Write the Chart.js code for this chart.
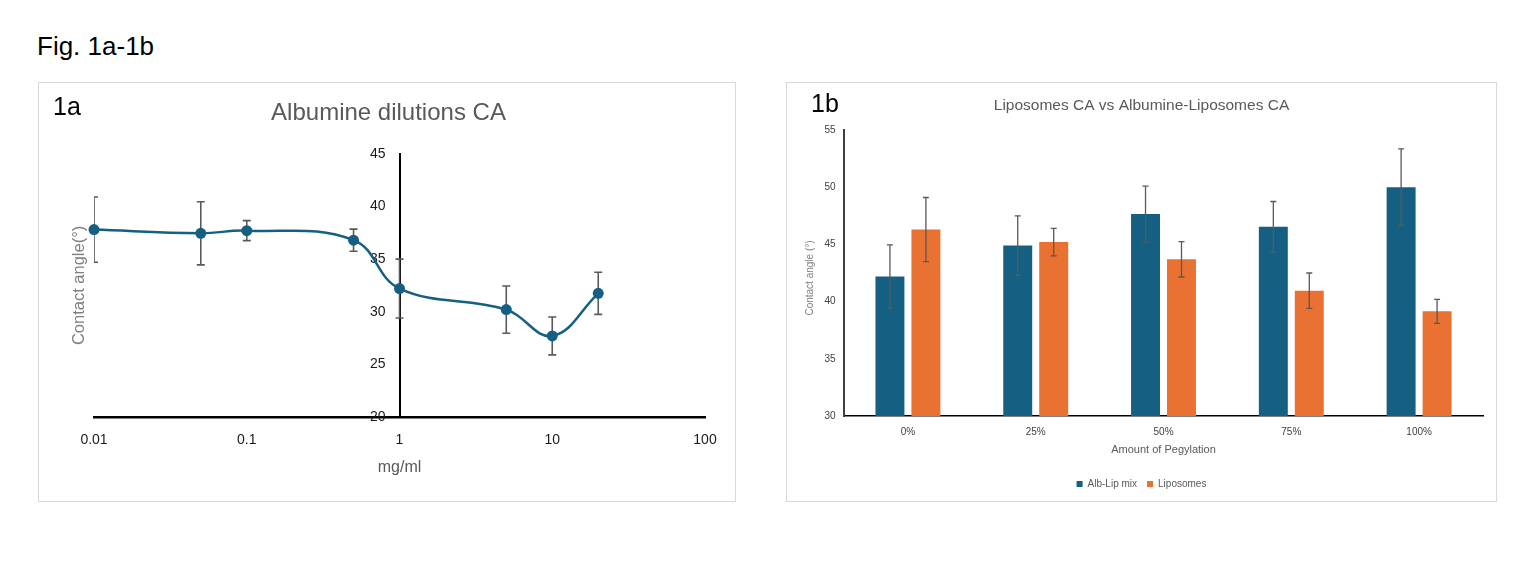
<!DOCTYPE html>
<html lang="en">

<head>
  <meta charset="UTF-8">
  <title>Fig. 1a-1b</title>
  <script src="https://cdn.jsdelivr.net/npm/chart.js"></script>
  <style>
    body { margin: 0; background: #fff; font-family: 'Liberation Sans', Arial, sans-serif; }
    #figTitle { position: absolute; left: 37px; top: 31px; font-size: 26px; line-height: 30px; color: #000; }
    .panel { position: absolute; top: 82px; height: 418px; border: 1px solid #d9d9d9; }
    #panelA { left: 38px; width: 696px; }
    #panelB { left: 786px; width: 709px; }
    .tag { position: absolute; z-index: 2; font-size: 25px; line-height: 28px; color: #000; }
    canvas { position: absolute; left: 0; top: 0; }
  </style>
</head>

<body>
  <div id="figTitle">Fig. 1a-1b</div>
  <div class="panel" id="panelA">
    <div class="tag" style="left:14px;top:9px">1a</div>
    <canvas id="chartA" width="696" height="418"></canvas>
  </div>
  <div class="panel" id="panelB">
    <div class="tag" style="left:24px;top:6px">1b</div>
    <canvas id="chartB" width="709" height="418"></canvas>
  </div>

<script>
  // 1a - albumine dilutions
  const concentrations = [0.01, 0.05, 0.1, 0.5, 1, 5, 10, 20]   // mg/ml
  const contactAngle = [37.8, 37.45, 37.7, 36.8, 32.2, 30.2, 27.7, 31.75]
  const contactAngleSd = [3.1, 3.0, 0.95, 1.05, 2.8, 2.25, 1.8, 2.0]
  const concTicks = [0.01, 0.1, 1, 10, 100]
  const angleTicksA = [20, 25, 30, 35, 40, 45]

  // 1b - liposomes vs albumine-liposomes
  const pegLabels = ['0%', '25%', '50%', '75%', '100%']
  const albLipMix = [42.2, 44.9, 47.65, 46.55, 50.0]
  const albLipSd = [2.75, 2.6, 2.45, 2.2, 3.35]
  const liposomes = [46.3, 45.2, 43.7, 40.95, 39.15]
  const liposomesSd = [2.8, 1.2, 1.55, 1.55, 1.05]
  const angleTicksB = [30, 35, 40, 45, 50, 55]

  const FONT = "'Liberation Sans', Arial, sans-serif"
  Chart.defaults.font.family = FONT

  // error bars drawn from dataset.errors through the y scale
  function drawErrorBars(chart, opts) {
    const ctx = chart.ctx
    const yScale = chart.scales.y
    const area = chart.chartArea
    ctx.save()
    if (opts.clip) {
      ctx.beginPath()
      ctx.rect(area.left, area.top, area.right - area.left, area.bottom - area.top)
      ctx.clip()
    }
    ctx.strokeStyle = opts.color
    ctx.lineWidth = opts.width
    chart.data.datasets.forEach((ds, i) => {
      if (!ds.errors) return
      const meta = chart.getDatasetMeta(i)
      meta.data.forEach((el, j) => {
        const v = meta.controller.getParsed(j).y
        const top = yScale.getPixelForValue(v + ds.errors[j])
        const bot = yScale.getPixelForValue(v - ds.errors[j])
        const x = el.x
        ctx.beginPath()
        ctx.moveTo(x, top); ctx.lineTo(x, bot)
        ctx.moveTo(x - opts.cap, top); ctx.lineTo(x + opts.cap, top)
        ctx.moveTo(x - opts.cap, bot); ctx.lineTo(x + opts.cap, bot)
        ctx.stroke()
      })
    })
    ctx.restore()
  }

  const errorBars = {
    id: 'errorBars',
    beforeDatasetsDraw(chart, args, opts) { if (opts.under) drawErrorBars(chart, opts) },
    afterDatasetsDraw(chart, args, opts) { if (!opts.under) drawErrorBars(chart, opts) }
  }

  new Chart(document.getElementById('chartA'), {
    type: 'line',
    data: {
      datasets: [{
        label: 'Contact angle',
        data: concentrations.map((c, i) => ({ x: c, y: contactAngle[i] })),
        errors: contactAngleSd,
        borderColor: '#156082',
        backgroundColor: '#156082',
        borderWidth: 2.5,
        pointRadius: 5.5,
        pointBorderWidth: 0,
        tension: 0.4,
        clip: false
      }]
    },
    options: {
      responsive: false,
      animation: false,
      layout: { padding: { left: 33, right: 30, top: 0, bottom: 29.8 } },
      plugins: {
        legend: { display: false },
        tooltip: { enabled: false },
        title: {
          display: true, text: 'Albumine dilutions CA', color: '#595959',
          font: { size: 24, weight: 'normal' }, padding: { top: 16, bottom: 26 }
        },
        errorBars: { under: true, clip: true, color: '#595959', width: 1.6, cap: 4 }
      },
      scales: {
        x: {
          type: 'logarithmic', min: 0.01, max: 100,
          afterBuildTicks: s => { s.ticks = concTicks.map(v => ({ value: v })) },
          ticks: { callback: v => String(v), autoSkip: false, maxRotation: 0, padding: 14.5, color: '#1a1a1a', font: { size: 14 } },
          grid: { display: false, drawTicks: false },
          border: { color: '#000', width: 2.5 },
          title: { display: true, text: 'mg/ml', color: '#595959', font: { size: 16, lineHeight: 0.4 }, padding: { top: 2, bottom: 0 } }
        },
        y: {
          position: { x: 1 }, min: 20, max: 45,
          afterBuildTicks: s => { s.ticks = angleTicksA.map(v => ({ value: v })) },
          // labels sit right on the centred axis, the em space keeps them off the line
          ticks: { callback: v => v + '\u2003', color: '#1a1a1a', font: { size: 14 } },
          grid: { display: false, drawTicks: false },
          border: { color: '#000', width: 2 }
        },
        yTitle: {
          position: 'left', display: true,
          ticks: { display: false },
          grid: { display: false, drawTicks: false },
          border: { display: false },
          title: { display: true, text: 'Contact angle(°)', color: '#7f7f7f', font: { size: 16.5, lineHeight: 0.85 }, padding: { top: 0, bottom: 8 } }
        }
      }
    },
    plugins: [errorBars]
  })

  new Chart(document.getElementById('chartB'), {
    type: 'bar',
    data: {
      labels: pegLabels,
      datasets: [
        { label: 'Alb-Lip mix', data: albLipMix, errors: albLipSd, backgroundColor: '#156082', borderWidth: 0 },
        { label: 'Liposomes', data: liposomes, errors: liposomesSd, backgroundColor: '#E97132', borderWidth: 0 }
      ]
    },
    options: {
      responsive: false,
      animation: false,
      datasets: { bar: { categoryPercentage: 0.563, barPercentage: 0.805 } },
      layout: { padding: { left: 13, right: 13, top: 0, bottom: 2 } },
      plugins: {
        tooltip: { enabled: false },
        title: {
          display: true, text: 'Liposomes CA vs Albumine-Liposomes CA', color: '#595959',
          font: { size: 15.5, weight: 'normal' }, padding: { top: 13.7, bottom: 14.7 }
        },
        legend: {
          position: 'bottom',
          labels: { boxWidth: 6, boxHeight: 6, padding: 10, color: '#595959', font: { size: 10 } }
        },
        errorBars: { under: false, clip: false, color: '#595959', width: 1.3, cap: 3 }
      },
      scales: {
        x: {
          grid: { display: false, drawTicks: false },
          border: { color: '#000', width: 1.5 },
          ticks: { padding: 10.5, color: '#404040', font: { size: 10 } },
          title: { display: true, text: 'Amount of Pegylation', color: '#595959', font: { size: 11, lineHeight: 0.1 }, padding: { top: 0, bottom: 18.9 } }
        },
        y: {
          min: 30, max: 55,
          afterBuildTicks: s => { s.ticks = angleTicksB.map(v => ({ value: v })) },
          grid: { display: false, drawTicks: false },
          border: { color: '#404040', width: 2 },
          ticks: { padding: 8.5, color: '#404040', font: { size: 10 } },
          title: { display: true, text: 'Contact angle (°)\u2003', color: '#7f7f7f', font: { size: 10, lineHeight: 1 }, padding: { top: 5.7, bottom: 0.2 } }
        }
      }
    },
    plugins: [errorBars]
  })
</script>
</body>

</html>
